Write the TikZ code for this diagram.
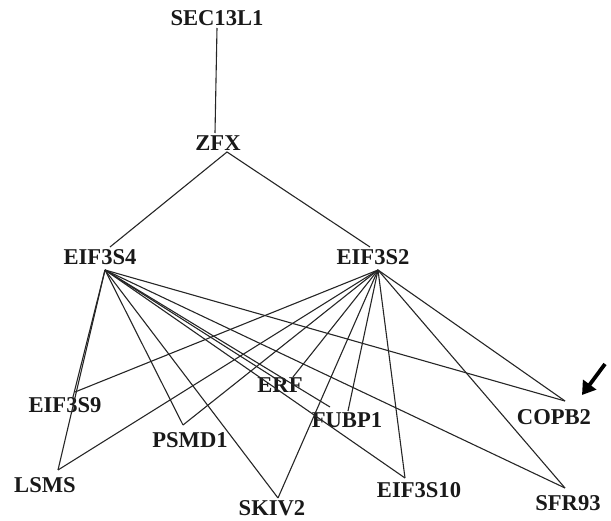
\documentclass[tikz,border=0pt]{standalone}
\usepackage{fontspec}
\setmainfont{Liberation Serif}
\usetikzlibrary{arrows.meta}
\begin{document}
\begin{tikzpicture}[x=1pt,y=-1pt,
  gene/.style={inner sep=0pt,font=\fontsize{22.6}{22.6}\selectfont\bfseries,text=black!90},
  link/.style={line width=1.1pt,draw=black!85},
  pointer/.style={line width=3.8pt,-{Triangle[length=13pt,width=16pt]}}]
\useasboundingbox (0,0) rectangle (611,521);
\node[gene] (sec) at (217,18) {SEC13L1};
\node[gene] (zfx) at (218,143) {ZFX};
\node[gene] (s4) at (100,257) {EIF3S4};
\node[gene] (s2) at (373,257) {EIF3S2};
\node[gene] (s9) at (65,405) {EIF3S9};
\node[gene] (erf) at (280,385) {ERF};
\node[gene] (psmd) at (190,440) {PSMD1};
\node[gene] (fubp) at (347,420) {FUBP1};
\node[gene] (copb) at (554,417) {COPB2};
\node[gene] (lsms) at (45,485) {LSMS};
\node[gene] (skiv) at (272,508) {SKIV2};
\node[gene] (s10) at (419,490) {EIF3S10};
\node[gene] (sfr) at (568,503) {SFR93};
% hubs
\coordinate (h4) at ([shift={(5,13)}]s4.center);
\coordinate (h2) at ([shift={(5,13)}]s2.center);
\draw[link] ([shift={(0,10)}]sec.center) -- ([shift={(-3,-10)}]zfx.center);
\draw[link] ([shift={(10,-10)}]s4.center) -- ([shift={(9,9)}]zfx.center) -- ([shift={(-3,-10)}]s2.center);
% EIF3S4 links
\draw[link] (h4) -- ([shift={(8,-8)}]s9.center);
\draw[link] (h4) -- ([shift={(13,-15)}]lsms.center);
\draw[link] (h4) -- ([shift={(-7,-15)}]psmd.center);
\draw[link] (h4) -- ([shift={(6,-10)}]skiv.center);
\draw[link] (h4) -- ([shift={(1,-3)}]erf.center);
\draw[link] (h4) -- ([shift={(-17,-13)}]fubp.center);
\draw[link] (h4) -- ([shift={(-14,-12)}]s10.center);
\draw[link] (h4) -- ([shift={(-3,-15)}]sfr.center);
\draw[link] (h4) -- ([shift={(11,-16)}]copb.center);
% EIF3S2 links
\draw[link] (h2) -- ([shift={(10,-13)}]s9.center);
\draw[link] (h2) -- ([shift={(13,-15)}]lsms.center);
\draw[link] (h2) -- ([shift={(-7,-15)}]psmd.center);
\draw[link] (h2) -- ([shift={(13,-8)}]erf.center);
\draw[link] (h2) -- ([shift={(6,-10)}]skiv.center);
\draw[link] (h2) -- ([shift={(1,-9)}]fubp.center);
\draw[link] (h2) -- ([shift={(-14,-12)}]s10.center);
\draw[link] (h2) -- ([shift={(-3,-15)}]sfr.center);
\draw[link] (h2) -- ([shift={(11,-16)}]copb.center);
% arrow
\coordinate (atail) at (605,364);
\coordinate (ahead) at (582,395);
\draw[pointer] (atail) -- (ahead);
\end{tikzpicture}
\end{document}
